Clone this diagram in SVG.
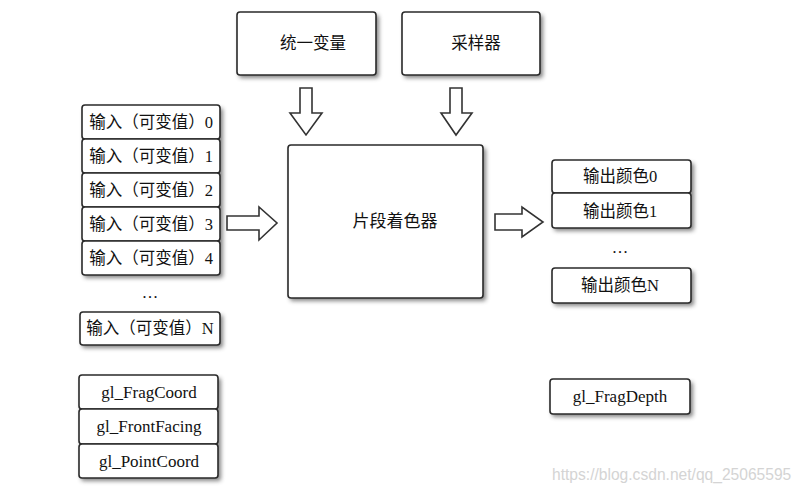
<svg xmlns="http://www.w3.org/2000/svg" width="804" height="493" viewBox="0 0 804 493">
<defs>
<filter id="sh" x="-20%" y="-20%" width="140%" height="160%">
<feGaussianBlur stdDeviation="2.2"/>
</filter>
<style>
.box{fill:#fff;stroke:#2a2a2a;stroke-width:1.6}
.shadow{fill:#666;opacity:0.8;filter:url(#sh)}
.t{font-family:"Liberation Serif","Noto Sans CJK SC",serif;font-size:16.5px;fill:#111;text-anchor:middle}
.arr{fill:#fff;stroke:#333;stroke-width:1.6;stroke-linejoin:miter}
.wm{font-family:"Liberation Sans",Arial,sans-serif;font-size:15.6px;fill:#d4d4d4}
</style>
</defs>
<rect width="804" height="493" fill="#fff"/>

<g id="shadows">
<rect class="shadow" x="239" y="15" width="140" height="63" rx="3"/>
<rect class="shadow" x="404" y="15" width="139" height="63" rx="3"/>
<rect class="shadow" x="290" y="148" width="196" height="153" rx="3"/>
<rect class="shadow" x="84" y="108" width="139" height="170" rx="3"/>
<rect class="shadow" x="82" y="315" width="141" height="33" rx="3"/>
<rect class="shadow" x="81" y="378" width="140" height="103" rx="3"/>
<rect class="shadow" x="554" y="163" width="140" height="68" rx="3"/>
<rect class="shadow" x="554" y="271" width="140" height="35" rx="3"/>
<rect class="shadow" x="552" y="382" width="141" height="35" rx="3"/>
</g>

<g id="uniform"><rect class="box" x="237" y="12" width="139" height="63" rx="3"/><text class="t" x="313" y="49">统一变量</text></g>
<g id="sampler"><rect class="box" x="402" y="12" width="138" height="63" rx="3"/><text class="t" x="476" y="49">采样器</text></g>
<g id="fragshader"><rect class="box" x="288" y="145" width="195" height="153" rx="3"/><text class="t" x="395" y="227" style="font-size:17px">片段着色器</text></g>

<g id="in0"><rect class="box" x="82" y="105" width="138" height="34" rx="3"/><text class="t" x="151" y="128">输入（可变值）0</text></g>
<g id="in1"><rect class="box" x="82" y="139" width="138" height="34" rx="3"/><text class="t" x="151" y="162">输入（可变值）1</text></g>
<g id="in2"><rect class="box" x="82" y="173" width="138" height="34" rx="3"/><text class="t" x="151" y="196">输入（可变值）2</text></g>
<g id="in3"><rect class="box" x="82" y="207" width="138" height="34" rx="3"/><text class="t" x="151" y="230">输入（可变值）3</text></g>
<g id="in4"><rect class="box" x="82" y="241" width="138" height="34" rx="3"/><text class="t" x="151" y="264">输入（可变值）4</text></g>
<text class="t" x="150" y="298">…</text>
<g id="inN"><rect class="box" x="80" y="312" width="140" height="33" rx="3"/><text class="t" x="150" y="334">输入（可变值）N</text></g>

<g id="fragcoord"><rect class="box" x="79" y="375" width="139" height="34" rx="3"/><text class="t" x="149" y="398" style="font-size:17px">gl_FragCoord</text></g>
<g id="frontfacing"><rect class="box" x="79" y="409" width="139" height="35" rx="3"/><text class="t" x="149" y="432" style="font-size:17px">gl_FrontFacing</text></g>
<g id="pointcoord"><rect class="box" x="79" y="444" width="139" height="34" rx="3"/><text class="t" x="149" y="467" style="font-size:17px">gl_PointCoord</text></g>

<g id="out0"><rect class="box" x="552" y="160" width="139" height="33" rx="3"/><text class="t" x="620" y="182">输出颜色0</text></g>
<g id="out1"><rect class="box" x="552" y="193" width="139" height="35" rx="3"/><text class="t" x="620" y="217">输出颜色1</text></g>
<text class="t" x="620" y="253">…</text>
<g id="outN"><rect class="box" x="552" y="268" width="139" height="35" rx="3"/><text class="t" x="620" y="291">输出颜色N</text></g>
<g id="fragdepth"><rect class="box" x="550" y="379" width="140" height="35" rx="3"/><text class="t" x="620" y="402" style="font-size:17px">gl_FragDepth</text></g>

<g id="connectors">
<polygon class="arr" points="300,88 312,88 312,113 322,113 306,135 290,113 300,113"/>
<polygon class="arr" points="450,88 462,88 462,113 472,113 456,135 441,113 450,113"/>
<polygon class="arr" points="227,216 259,216 259,207 277,223 259,240 259,230 227,230"/>
<polygon class="arr" points="495,214 522,214 522,207 543,222 522,237 522,230 495,230"/>
</g>

<text class="wm" x="552" y="480">https://blog.csdn.net/qq_25065595</text>
</svg>
